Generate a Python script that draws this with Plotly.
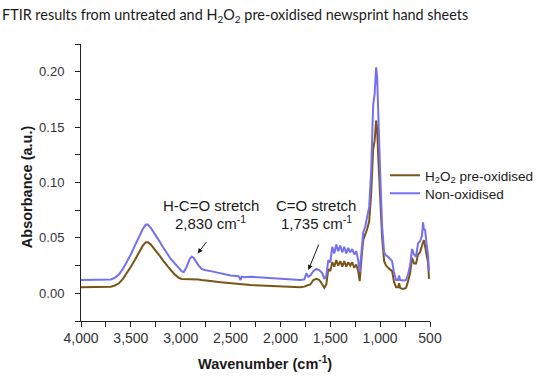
import plotly.graph_objects as go

wavenumber = [4000, 3900, 3800, 3700, 3660, 3620, 3580, 3540, 3500, 3460, 3420, 3380, 3350, 3330, 3300,
              3260, 3220, 3180, 3140, 3100, 3060, 3020, 2990, 2970, 2940, 2910, 2890, 2870, 2850, 2820,
              2790, 2760, 2700, 2600, 2500, 2420, 2400, 2390, 2370, 2300, 2200, 2100, 2000, 1900, 1800,
              1760, 1740, 1720, 1700, 1670, 1640, 1610, 1580, 1560, 1540, 1520, 1500, 1480, 1460, 1440,
              1420, 1400, 1380, 1360, 1340, 1320, 1300, 1280, 1260, 1240, 1220, 1205, 1190, 1170, 1150,
              1130, 1110, 1090, 1070, 1055, 1040, 1030, 1020, 1000, 980, 960, 940, 920, 900, 880,
              860, 840, 820, 810, 800, 780, 760, 740, 720, 700, 680, 660, 640, 620, 600,
              580, 570, 560, 550, 535, 520, 510]

non_oxidised = [0.012, 0.012, 0.012, 0.0125, 0.014, 0.017, 0.022, 0.028, 0.035, 0.043, 0.051, 0.058, 0.062, 0.062, 0.059,
                0.054, 0.048, 0.042, 0.036, 0.031, 0.027, 0.023, 0.020, 0.019, 0.024, 0.031, 0.033, 0.032, 0.029, 0.025,
                0.022, 0.021, 0.020, 0.018, 0.016, 0.0155, 0.012, 0.015, 0.0145, 0.015, 0.0145, 0.014, 0.0135, 0.0125, 0.012,
                0.0125, 0.018, 0.015, 0.016, 0.020, 0.022, 0.021, 0.018, 0.013, 0.016, 0.030, 0.028, 0.042, 0.036, 0.044,
                0.038, 0.043, 0.037, 0.042, 0.036, 0.041, 0.037, 0.040, 0.035, 0.038, 0.030, 0.019, 0.035, 0.055, 0.060,
                0.068, 0.078, 0.110, 0.170, 0.180, 0.204, 0.195, 0.160, 0.110, 0.060, 0.037, 0.034, 0.033, 0.031, 0.029,
                0.018, 0.012, 0.012, 0.016, 0.012, 0.0115, 0.0115, 0.012, 0.017, 0.025, 0.040, 0.035, 0.033, 0.045, 0.047,
                0.052, 0.064, 0.057, 0.058, 0.045, 0.035, 0.020]

pre_oxidised = [0.0055, 0.0055, 0.0055, 0.006, 0.007, 0.009, 0.013, 0.018, 0.024, 0.030, 0.037, 0.043, 0.046, 0.046, 0.044,
                0.040, 0.035, 0.030, 0.025, 0.021, 0.017, 0.014, 0.013, 0.013, 0.013, 0.013, 0.013, 0.013, 0.013, 0.0125,
                0.012, 0.0118, 0.011, 0.010, 0.009, 0.0085, 0.008, 0.0085, 0.008, 0.0075, 0.007, 0.0065, 0.006, 0.0055, 0.0055,
                0.006, 0.007, 0.0075, 0.008, 0.012, 0.013, 0.012, 0.008, 0.005, 0.008, 0.022, 0.020, 0.028, 0.024, 0.030,
                0.025, 0.029, 0.024, 0.029, 0.024, 0.028, 0.025, 0.028, 0.023, 0.026, 0.020, 0.011, 0.028, 0.048, 0.053,
                0.058, 0.065, 0.090, 0.130, 0.138, 0.156, 0.148, 0.125, 0.085, 0.050, 0.029, 0.025, 0.023, 0.021, 0.020,
                0.010, 0.0055, 0.0055, 0.009, 0.005, 0.004, 0.004, 0.005, 0.011, 0.018, 0.032, 0.027, 0.027, 0.035, 0.037,
                0.045, 0.046, 0.048, 0.044, 0.035, 0.028, 0.013]

series_names = ["H<sub>2</sub>O<sub>2</sub> pre-oxidised", "Non-oxidised"]
x_ticks = [4000, 3500, 3000, 2500, 2000, 1500, 1000, 500]
y_ticks = [0.00, 0.05, 0.10, 0.15, 0.20]

BROWN = "#7a5419"
BLUE = "#7570f0"
FONT = "Liberation Sans"
TXT = "#1a1a1a"

fig = go.Figure()
fig.add_trace(go.Scatter(x=wavenumber, y=pre_oxidised, mode="lines", name=series_names[0],
                         line=dict(color=BROWN, width=2), legend="legend"))
fig.add_trace(go.Scatter(x=wavenumber, y=non_oxidised, mode="lines", name=series_names[1],
                         line=dict(color=BLUE, width=2), legend="legend2"))

axis_common = dict(showgrid=False, zeroline=False, showline=True, linecolor="#222222", linewidth=1,
                   ticks="outside", ticklen=5, tickcolor="#222222", tickwidth=1)

fig.update_xaxes(range=[4000, 500], tickvals=x_ticks, tickformat=",d",
                 tickfont=dict(family=FONT, size=14, color="#333333"), ticklabelstandoff=-1,
                 minor=dict(dtick=250, ticks="outside", ticklen=5, tickcolor="#222222"),
                 **axis_common)
fig.update_yaxes(range=[-0.025, 0.225], tickvals=y_ticks, tickformat=".2f",
                 tickfont=dict(family=FONT, size=13, color="#333333"),
                 minor=dict(tickvals=[-0.025, 0.025, 0.075, 0.125, 0.175, 0.225], ticks="outside",
                            ticklen=5, tickcolor="#222222"),
                 ticklabelstandoff=8, **axis_common)

annotations = [
    dict(text="FTIR results from untreated and H<sub>2</sub>O<sub>2</sub> pre-oxidised newsprint hand sheets",
         xref="paper", yref="paper", x=-81/350, y=1 + 28/277, xanchor="left", yanchor="middle",
         showarrow=False, font=dict(family="Lato", size=14.4, color=TXT)),
    dict(text="<b>Wavenumber (cm<sup>-1</sup>)</b>", xref="paper", yref="paper",
         x=(266 - 81) / 350, y=-(363 - 321) / 277, xanchor="center", yanchor="middle",
         showarrow=False, font=dict(family=FONT, size=14.5, color=TXT)),
    dict(text="<b>Absorbance (a.u.)</b>", xref="paper", yref="paper", textangle=-90,
         x=-(81 - 27) / 350, y=(321 - 187) / 277, xanchor="center", yanchor="middle",
         showarrow=False, font=dict(family=FONT, size=14.5, color=TXT)),
    dict(text="H-C=O stretch", x=2700, y=0.0795, xref="x", yref="y", yanchor="middle",
         showarrow=False, font=dict(family=FONT, size=15, color=TXT)),
    dict(text="2,830 cm<sup>-1</sup>", x=2700, y=0.0635, xref="x", yref="y", yanchor="middle",
         showarrow=False, font=dict(family=FONT, size=15, color=TXT)),
    dict(text="C=O stretch", x=1640, y=0.0795, xref="x", yref="y", yanchor="middle",
         showarrow=False, font=dict(family=FONT, size=15, color=TXT)),
    dict(text="1,735 cm<sup>-1</sup>", x=1640, y=0.0635, xref="x", yref="y", yanchor="middle",
         showarrow=False, font=dict(family=FONT, size=15, color=TXT)),
    dict(text="", x=2830, y=0.036, xref="x", yref="y", showarrow=True, ax=10, ay=-13,
         arrowhead=2, arrowsize=1, arrowwidth=1, arrowcolor=TXT),
    dict(text="", x=1720, y=0.021, xref="x", yref="y", showarrow=True, ax=11, ay=-27,
         arrowhead=2, arrowsize=1, arrowwidth=1, arrowcolor=TXT),
]

legend_style = dict(xanchor="left", yanchor="top", bgcolor="rgba(0,0,0,0)",
                    font=dict(family=FONT, size=13.5, color=TXT), itemwidth=30)

fig.update_layout(
    width=550, height=379,
    margin=dict(l=81, r=119, t=44, b=58),
    paper_bgcolor="white", plot_bgcolor="white",
    showlegend=True,
    legend=dict(x=(385 - 81) / 350, y=(321 - 160) / 277, **legend_style),
    legend2=dict(x=(385 - 81) / 350, y=(321 - 178) / 277, **legend_style),
    annotations=annotations,
)

fig.write_html("out.html", config={"displayModeBar": False},
               post_script="document.body.style.margin='0';")
